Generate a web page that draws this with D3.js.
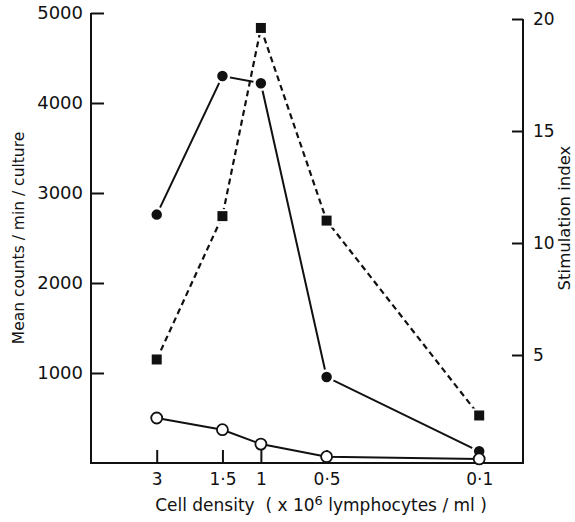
<!DOCTYPE html>
<html>
<head>
<meta charset="utf-8">
<script src="https://cdn.jsdelivr.net/npm/d3@7"></script>
<style>
  body { margin: 0; background: #fff; }
  text { font-family: "DejaVu Sans", sans-serif; fill: #111; }
</style>
</head>
<body>
<div id="myChart"></div>
<script>
// data
const densities = [3, 1.5, 1, 0.5, 0.1];
const densityLabels = ["3", "1·5", "1", "0·5", "0·1"];
const stimulated = [2760, 4300, 4220, 955, 130];   // filled circles, left axis
const control = [500, 370, 210, 70, 45];          // open circles, left axis
const stimIndex = [4.8, 11.2, 19.6, 11.0, 2.3];    // squares, right axis
const countTicks = [1000, 2000, 3000, 4000, 5000];
const indexTicks = [5, 10, 15, 20];

const width = 575, height = 522;

let svg = d3.select("#myChart")
  .append("svg")
    .attr("width", width)
    .attr("height", height);

// scales
const x = d3.scaleLog().domain([6, 0.063]).range([91, 523]);
const y = d3.scaleLinear().domain([0, 5000]).range([463, 13]);
const y2 = d3.scaleLinear().domain([0, 20]).range([467, 19]);

// axes
const xAxis = svg.append("g")
  .attr("transform", "translate(0,463)")
  .call(d3.axisBottom(x).tickValues(densities)
    .tickFormat((d, i) => densityLabels[i]).tickSize(-13).tickSizeOuter(0).tickPadding(10));

const yAxis = svg.append("g")
  .attr("transform", "translate(91,0)")
  .call(d3.axisLeft(y).tickValues(countTicks).tickFormat(d3.format("d"))
    .tickSize(-13).tickSizeOuter(0).tickPadding(8));

const yAxis2 = svg.append("g")
  .attr("transform", "translate(523,0)")
  .call(d3.axisRight(y2).tickValues(indexTicks).tickSize(-11).tickSizeOuter(0).tickPadding(10));

[xAxis, yAxis, yAxis2].forEach(g => {
  g.select(".domain").remove();
  g.selectAll("line").attr("stroke", "#111").attr("stroke-width", 2);
  g.selectAll("text").attr("fill", "#111");
});
xAxis.selectAll("text").attr("font-size", "17px");
yAxis.selectAll("text").attr("font-size", "18px");
yAxis2.selectAll("text").attr("font-size", "17px");

// frame lines
svg.append("path")
  .attr("d", `M91,${y(5000)}V463H523V${y2(20)}`)
  .attr("fill", "none")
  .attr("stroke", "#111")
  .attr("stroke-width", 2);

// series lines
const lineL = d3.line().x((d, i) => x(densities[i])).y(d => y(d));
const lineR = d3.line().x((d, i) => x(densities[i])).y(d => y2(d));

svg.append("path").datum(stimIndex)
  .attr("d", lineR)
  .attr("fill", "none").attr("stroke", "#111")
  .attr("stroke-width", 2.2).attr("stroke-dasharray", "6,4");

svg.append("path").datum(stimulated)
  .attr("d", lineL)
  .attr("fill", "none").attr("stroke", "#111").attr("stroke-width", 2);

svg.append("path").datum(control)
  .attr("d", lineL)
  .attr("fill", "none").attr("stroke", "#111").attr("stroke-width", 2);

// markers
svg.selectAll(".sq")
  .data(stimIndex)
  .join("rect")
    .attr("class", "sq")
    .attr("x", (d, i) => x(densities[i]) - 6)
    .attr("y", d => y2(d) - 6)
    .attr("width", 12).attr("height", 12)
    .attr("fill", "#111").attr("stroke", "#fff").attr("stroke-width", 2);

svg.selectAll(".fc")
  .data(stimulated)
  .join("circle")
    .attr("class", "fc")
    .attr("cx", (d, i) => x(densities[i]))
    .attr("cy", d => y(d))
    .attr("r", 6.5)
    .attr("fill", "#111").attr("stroke", "#fff").attr("stroke-width", 2.5);

svg.selectAll(".oc")
  .data(control)
  .join("circle")
    .attr("class", "oc")
    .attr("cx", (d, i) => x(densities[i]))
    .attr("cy", d => y(d))
    .attr("r", 5.5)
    .attr("fill", "#fff").attr("stroke", "#111").attr("stroke-width", 1.8);

// axis titles
svg.append("text")
  .attr("transform", "translate(24,238) rotate(-90)")
  .attr("text-anchor", "middle")
  .attr("font-size", "15.5px")
  .text("Mean counts / min / culture");

svg.append("text")
  .attr("transform", "translate(570,218) rotate(-90)")
  .attr("text-anchor", "middle")
  .attr("font-size", "16.5px")
  .text("Stimulation  index");

const xt = svg.append("text")
  .attr("x", 321).attr("y", 511)
  .attr("text-anchor", "middle")
  .attr("font-size", "17px")
  .attr("xml:space", "preserve");
xt.append("tspan").text("Cell density  ( x 10");
xt.append("tspan").attr("dy", -6).attr("font-size", "13px").text("6");
xt.append("tspan").attr("dy", 6).text(" lymphocytes / ml )");
</script>
</body>
</html>
